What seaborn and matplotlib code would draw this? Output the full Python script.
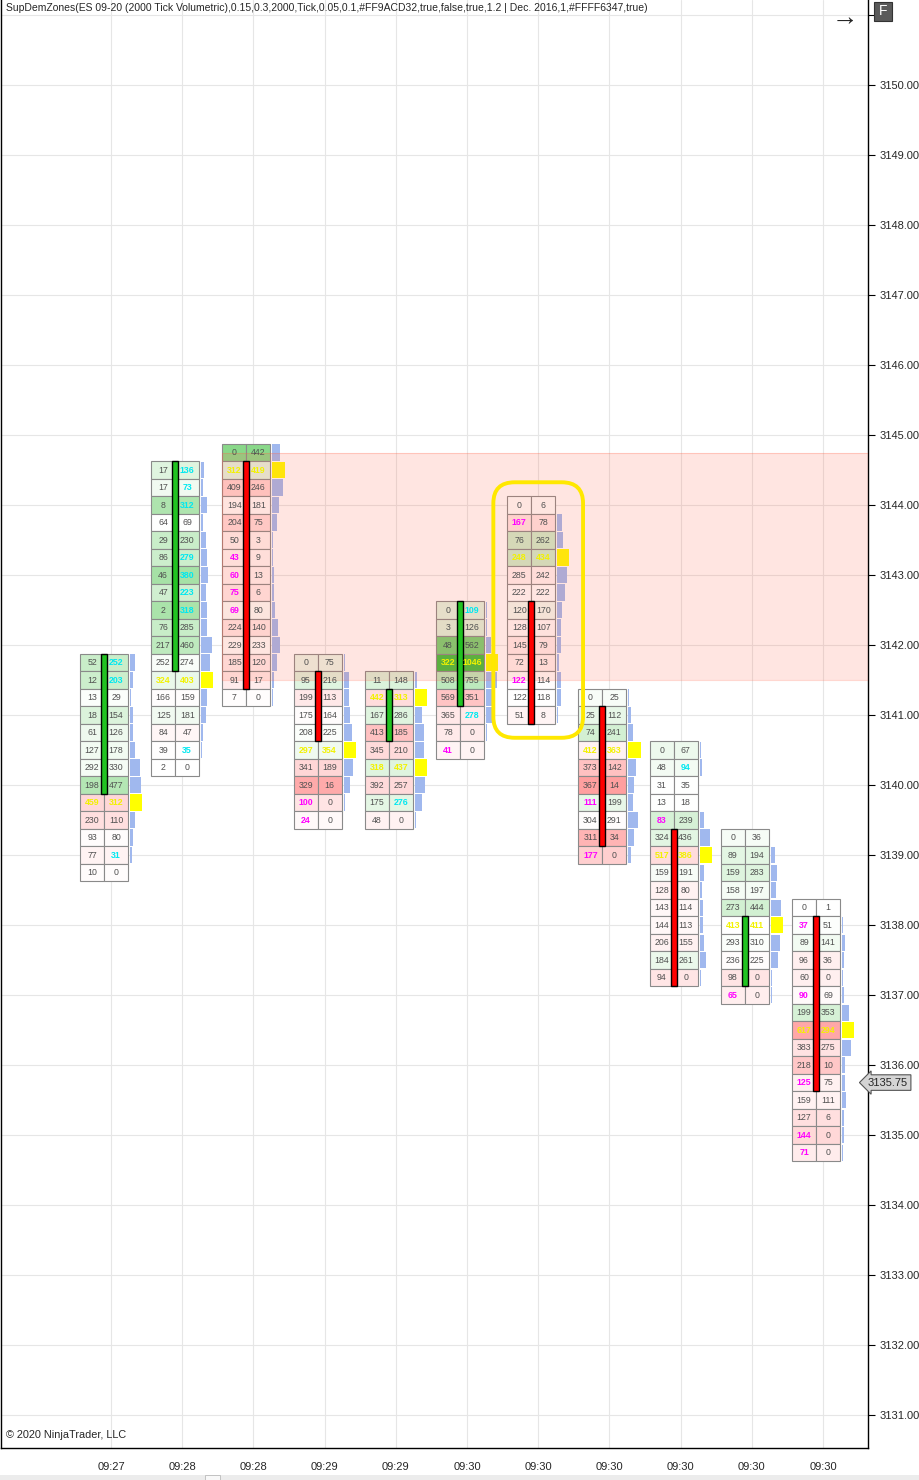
import numpy as np
import matplotlib.pyplot as plt
from matplotlib.patches import FancyBboxPatch, Rectangle
import seaborn as sns

# --- footprint data (ES 09-20, 2000 tick volumetric) ---
tick = 0.25
time_labels = ['09:27', '09:28', '09:28', '09:29', '09:29', '09:30',
               '09:30', '09:30', '09:30', '09:30', '09:30']
bar_high = [3141.75, 3144.5, 3144.75, 3141.75, 3141.5, 3142.5,
            3144.0, 3141.25, 3140.5, 3139.25, 3138.25]
bar_open = [3140.0, 3141.75, 3144.5, 3141.5, 3140.75, 3141.25,
            3142.5, 3141.0, 3139.25, 3137.25, 3138.0]
bar_close = [3141.75, 3144.5, 3141.5, 3140.75, 3141.25, 3142.5,
             3141.0, 3139.25, 3137.25, 3138.0, 3135.75]
# bid / ask volume per price row, from the bar high downwards
bid_vol = [
    [52, 12, 13, 18, 61, 127, 292, 198, 459, 230, 93, 77, 10],
    [17, 17, 8, 64, 29, 86, 46, 47, 2, 76, 217, 252, 324, 166, 125, 84, 39, 2],
    [0, 312, 409, 194, 204, 50, 43, 60, 75, 69, 224, 229, 185, 91, 7],
    [0, 95, 199, 175, 208, 297, 341, 329, 100, 24],
    [11, 442, 167, 413, 345, 318, 392, 175, 48],
    [0, 3, 48, 322, 508, 569, 365, 78, 41],
    [0, 167, 76, 248, 285, 222, 120, 128, 145, 72, 122, 122, 51],
    [0, 25, 74, 412, 373, 367, 111, 304, 311, 177],
    [0, 48, 31, 13, 83, 324, 517, 159, 128, 143, 144, 206, 184, 94],
    [0, 89, 159, 158, 273, 413, 293, 236, 98, 65],
    [0, 37, 89, 96, 60, 90, 199, 617, 383, 218, 125, 159, 127, 144, 71],
]
ask_vol = [
    [252, 203, 29, 154, 126, 178, 330, 477, 312, 110, 80, 31, 0],
    [136, 73, 312, 69, 230, 279, 380, 223, 318, 285, 460, 274, 403, 159, 181, 47, 35, 0],
    [442, 419, 246, 181, 75, 3, 9, 13, 6, 80, 140, 233, 120, 17, 0],
    [75, 216, 113, 164, 225, 354, 189, 16, 0, 0],
    [148, 313, 286, 185, 210, 437, 257, 276, 0],
    [109, 126, 562, 1046, 755, 351, 278, 0, 0],
    [6, 78, 262, 434, 242, 222, 170, 107, 79, 13, 114, 118, 8],
    [25, 112, 241, 363, 142, 14, 199, 291, 34, 0],
    [67, 94, 35, 18, 239, 436, 386, 191, 80, 114, 113, 155, 261, 0],
    [36, 194, 283, 197, 444, 411, 310, 225, 0, 0],
    [1, 51, 141, 36, 0, 69, 353, 294, 275, 10, 75, 111, 6, 0, 0],
]
zone_low, zone_high = 3141.5, 3144.75   # supply zone
zone_from_bar = 2
highlight_bar = 6
last_price = 3135.75
imb_ratio = 3.0

title = ('SupDemZones(ES 09-20 (2000 Tick Volumetric),0.15,0.3,2000,Tick,0.05,0.1,'
         '#FF9ACD32,true,false,true,1.2 | Dec. 2016,1,#FFFF6347,true)')

sns.set_theme(style='white')
plt.rcParams['font.family'] = ['Liberation Sans', 'DejaVu Sans']

greens = sns.blend_palette(['white', '#29b829'], as_cmap=True)
reds = sns.blend_palette(['white', '#ff2525'], as_cmap=True)

W, H = 919, 1480
fig = plt.figure(figsize=(W / 100, H / 100), dpi=100)
ax = fig.add_axes([1 / W, 32 / H, 867 / W, 1448 / H])

# layout of a footprint column, in bar units
c_left, c_mid, c_right = -0.435, -0.098, 0.239
p_left, p_max = 0.267, 0.17
body_w = 0.084

for i in range(len(bar_high)):
    bids = np.array(bid_vol[i])
    asks = np.array(ask_vol[i])
    prices = bar_high[i] - tick * np.arange(len(bids))
    total = bids + asks
    delta = asks - bids
    cols = [greens(min(d / 800, 1)) if d >= 0 else reds(min(-d / 800, 1)) for d in delta]

    # bid and ask cells
    ax.bar(np.full(len(prices), i + c_left), tick, bottom=prices - tick / 2,
           width=c_mid - c_left, align='edge', color=cols, edgecolor='#8a8a8a',
           linewidth=0.8, zorder=2)
    ax.bar(np.full(len(prices), i + c_mid), tick, bottom=prices - tick / 2,
           width=c_right - c_mid, align='edge', color=cols, edgecolor='#8a8a8a',
           linewidth=0.8, zorder=2)

    # volume profile, POC in yellow
    poc = total == total.max()
    prof_cols = np.where(poc, '#ffff00', '#a0b8ee')
    ax.barh(prices, total / total.max() * p_max, left=i + p_left, height=tick * 0.92,
            color=prof_cols, linewidth=0, zorder=1.5)

    # candle body
    lo, hi = min(bar_open[i], bar_close[i]), max(bar_open[i], bar_close[i])
    body_col = '#22c322' if bar_close[i] >= bar_open[i] else '#ff0000'
    ax.bar(i + c_mid, hi - lo + tick, bottom=lo - tick / 2, width=body_w,
           color=body_col, edgecolor='black', linewidth=1.0, zorder=4)

    # numbers
    for j, p in enumerate(prices):
        bcol, acol, bw, aw = '#505050', '#505050', 'normal', 'normal'
        if j + 1 < len(prices) and asks[j] >= imb_ratio * bids[j + 1] and asks[j] > 0:
            acol, aw = '#00e8f0', 'bold'
        if j > 0 and bids[j] >= imb_ratio * asks[j - 1] and bids[j] > 0:
            bcol, bw = '#ff00ff', 'bold'
        if poc[j]:
            bcol = acol = '#f2f200'
            bw = aw = 'bold'
        ax.text(i + (c_left + c_mid) / 2, p, str(bids[j]), ha='center', va='center',
                fontsize=6.3, color=bcol, fontweight=bw, zorder=5)
        ax.text(i + (c_mid + c_right) / 2, p, str(asks[j]), ha='center', va='center',
                fontsize=6.3, color=acol, fontweight=aw, zorder=5)

# supply zone
ax.add_patch(Rectangle((zone_from_bar + c_left, zone_low), 20, zone_high - zone_low,
                       facecolor='tomato', alpha=0.16, edgecolor='none', zorder=3))
ax.add_patch(Rectangle((zone_from_bar + c_left, zone_low), 20, zone_high - zone_low,
                       facecolor='none', edgecolor='tomato', alpha=0.25, lw=0.8, zorder=3))

# yellow highlight around one bar
hb = highlight_bar
hb_low = bar_high[hb] - tick * (len(bid_vol[hb]) - 1)
ax.add_patch(FancyBboxPatch((hb - 0.63, hb_low - tick / 2 - 0.2), 1.26,
                            bar_high[hb] - hb_low + tick + 0.4,
                            boxstyle='round,pad=0,rounding_size=0.3',
                            facecolor='none', edgecolor='#ffe800', lw=2.8, zorder=6))

# axes
ax.set_xlim((1 - 111) / 71.2, (868 - 111) / 71.2)
ax.set_ylim(3130.53, 3151.214)
ax.set_xticks(range(len(time_labels)))
ax.set_xticklabels(time_labels, fontsize=8)
yt = np.arange(3131, 3152)
ax.set_yticks(yt)
ax.set_yticklabels([f'{v:.2f}' for v in yt[:-1]] + [''], fontsize=8)
ax.yaxis.tick_right()
ax.tick_params(axis='both', direction='out', length=5, width=0.8, color='black', pad=3)
ax.tick_params(axis='x', pad=5)
ax.grid(True, color='#e6e6e6', lw=0.8, zorder=0)
ax.set_axisbelow(True)
for s in ['left', 'bottom', 'right']:
    ax.spines[s].set_color('black')
    ax.spines[s].set_linewidth(1)
ax.spines['top'].set_visible(False)

ax.text(0.006, 0.9945, title, transform=ax.transAxes, fontsize=7.5, va='center', ha='left')
ax.text(0.006, 0.009, '\u00a9 2020 NinjaTrader, LLC', transform=ax.transAxes,
        fontsize=7.8, va='center', ha='left')

# last price marker
ax.text(1.0, last_price, f'{last_price:.2f}', transform=ax.get_yaxis_transform(),
        fontsize=8, va='center', ha='left', clip_on=False, zorder=10,
        bbox=dict(boxstyle='larrow,pad=0.25', facecolor='#d4d4d4', edgecolor='#555555', lw=0.8))

# chart-window chrome
fig.text(845 / W, 1 - 18 / H, '\u2192', fontsize=19, ha='center', va='center')
fig.patches.append(Rectangle((874 / W, 1 - 21 / H), 18 / W, 19 / H, transform=fig.transFigure,
                             facecolor='#5a5a5a', edgecolor='#333333', lw=0.8))
fig.text(883 / W, 1 - 11 / H, 'F', color='white', fontsize=10, ha='center', va='center')
fig.patches.append(Rectangle((0, 0), 1, 5 / H, transform=fig.transFigure,
                             facecolor='#ececec', edgecolor='none'))
fig.patches.append(Rectangle((205 / W, 0), 15 / W, 5 / H, transform=fig.transFigure,
                             facecolor='#f8f8f8', edgecolor='#bbbbbb', lw=0.6))

fig.savefig('out.png', dpi=100)
